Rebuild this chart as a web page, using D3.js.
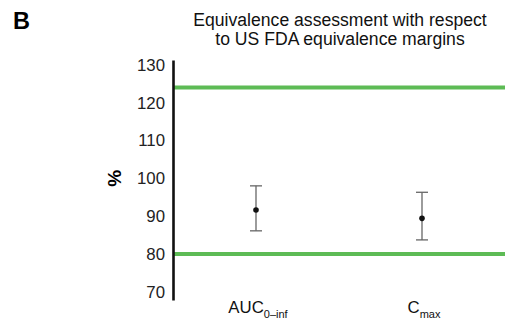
<!DOCTYPE html>
<html>
<head>
<meta charset="utf-8">
<script src="https://cdn.jsdelivr.net/npm/d3@7"></script>
<style>
  html, body { margin: 0; padding: 0; background: #fff; }
  svg { display: block; font-family: "Liberation Sans", Arial, Helvetica, sans-serif; }
</style>
</head>
<body>
<svg id="chart" width="505" height="320"></svg>
<script>
// ---- data ----
const categories = ["AUC", "Cmax"];
const catMain = ["AUC", "C"];
const catSub = ["0\u2013inf", "max"];
const pointEstimates = [91.6, 89.4];
const lowerCI = [86.1, 83.7];
const upperCI = [98.0, 96.3];
const margins = [80, 124];
const yTicks = [70, 80, 90, 100, 110, 120, 130];
const titleLines = ["Equivalence assessment with respect", "to US FDA equivalence margins"];
const yLabel = "%";
const panelLabel = "B";

// ---- layout ----
const svg = d3.select("#chart");
const axisX = 173, xRight = 505;
const yTop = 60, yBottom = 300;

const y = d3.scaleLinear().domain([67.8, 131.3]).range([yBottom, yTop]);
const x = d3.scalePoint().domain(categories).range([axisX, xRight]).padding(0.5);

// panel label
svg.append("text").attr("x", 13).attr("y", 29)
  .attr("font-size", 23.5).attr("font-weight", "bold").text(panelLabel);

// title
svg.append("g").selectAll("text").data(titleLines).join("text")
  .attr("x", 340).attr("y", (d, i) => 25.7 + i * 19.5)
  .attr("text-anchor", "middle").attr("font-size", 17.6).attr("fill", "#111")
  .text(d => d);

// margin lines
svg.append("g").selectAll("line").data(margins).join("line")
  .attr("x1", axisX).attr("x2", xRight)
  .attr("y1", d => y(d)).attr("y2", d => y(d))
  .attr("stroke", "#5dbb55").attr("stroke-width", 4);

// y axis
const yAxis = svg.append("g").attr("transform", `translate(${axisX},0)`)
  .call(d3.axisLeft(y).tickValues(yTicks).tickSize(0).tickPadding(8).tickFormat(d3.format("d")));
yAxis.select(".domain").attr("stroke", "#111").attr("stroke-width", 2.6);
yAxis.selectAll("text").attr("font-size", 16.8).attr("fill", "#222")
  .style("font-family", "'Liberation Sans', Arial, sans-serif");

// y label
svg.append("text")
  .attr("transform", `translate(121,${y(100)}) rotate(-90)`)
  .attr("text-anchor", "middle").attr("font-size", 19).attr("font-weight", "bold")
  .text(yLabel);

// error bars
const rows = categories.map((c, i) => ({ c, est: pointEstimates[i], lo: lowerCI[i], hi: upperCI[i] }));
const eb = svg.append("g").selectAll("g").data(rows).join("g");
eb.append("line")
  .attr("x1", d => x(d.c)).attr("x2", d => x(d.c))
  .attr("y1", d => y(d.lo)).attr("y2", d => y(d.hi))
  .attr("stroke", "#666").attr("stroke-width", 1.3);
eb.selectAll(".cap").data(d => [d.lo, d.hi].map(v => ({ c: d.c, v }))).join("line")
  .attr("class", "cap")
  .attr("x1", d => x(d.c) - 6).attr("x2", d => x(d.c) + 6)
  .attr("y1", d => y(d.v)).attr("y2", d => y(d.v))
  .attr("stroke", "#666").attr("stroke-width", 1.3);
eb.append("circle")
  .attr("cx", d => x(d.c)).attr("cy", d => y(d.est)).attr("r", 2.8)
  .attr("fill", "#111");

// category labels
const cl = svg.append("g").selectAll("text").data(categories).join("text")
  .attr("x", (d, i) => x(d) + 2).attr("y", 312.7)
  .attr("text-anchor", "middle").attr("font-size", 16.8).attr("fill", "#111");
cl.append("tspan").text((d, i) => catMain[i]);
cl.append("tspan").attr("dy", 5).attr("font-size", 11).text((d, i) => catSub[i]);
</script>
</body>
</html>
